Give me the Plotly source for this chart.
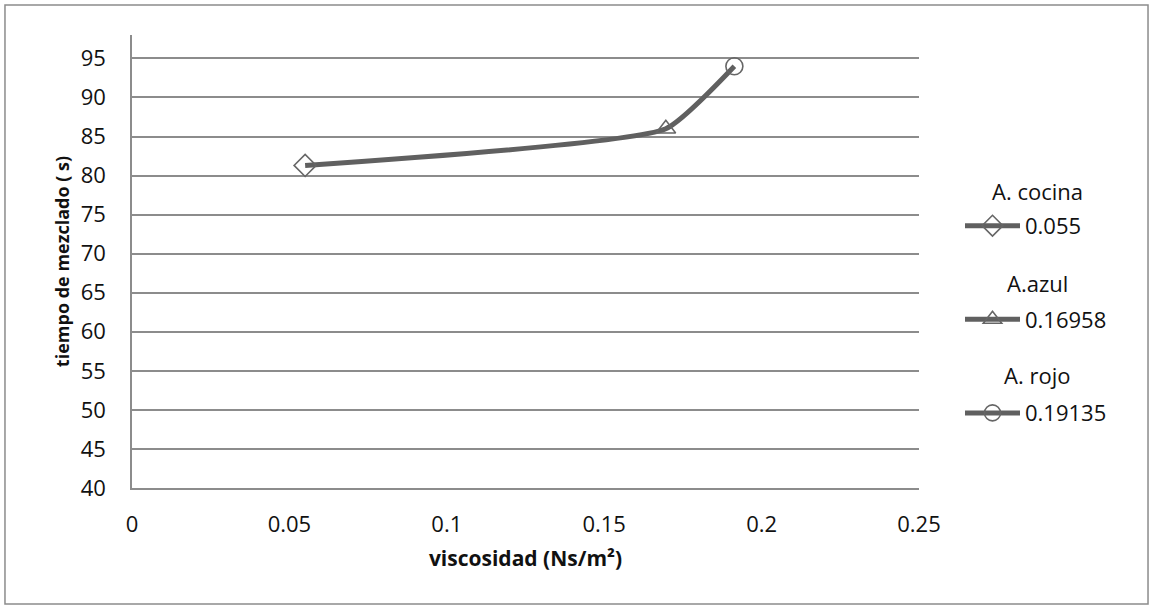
import plotly.graph_objects as go

viscosidad = [0.055, 0.16958, 0.19135]
tiempo = [81.3, 86.0, 94.0]
nombres = ["A. cocina", "A.azul", "A. rojo"]
etiquetas = ["0.055", "0.16958", "0.19135"]
simbolos = ["diamond-open", "triangle-up-open", "circle-open"]

LINE = "#606060"
GRID = "#8c8c8c"
FONT = "Open Sans, Liberation Sans, sans-serif"

fig = go.Figure()
fig.add_trace(go.Scatter(
    x=viscosidad, y=tiempo, mode="lines",
    line=dict(color=LINE, width=5, shape="spline", smoothing=0.45),
    showlegend=False, hoverinfo="skip"))

for xv, yv, nm, lab, sym in zip(viscosidad, tiempo, nombres, etiquetas, simbolos):
    fig.add_trace(go.Scatter(
        x=[xv], y=[yv], mode="lines+markers", name=lab,
        legendgroup=nm,
        line=dict(color=LINE, width=5),
        marker=dict(symbol=sym, size=17, color="#666666", line=dict(width=1.6, color="#666666")),
    ))

# group titles above each legend entry (centred like the original)
H = 609
t, b = 35, 121
ph = H - t - b
for i, nm in enumerate(nombres):
    ypix = 191 + 92 * i
    fig.add_annotation(text=nm, xref="paper", yref="paper",
                       x=(1037 - 132) / 787, y=(H - b - ypix) / ph,
                       xanchor="center", yanchor="middle", showarrow=False,
                       font=dict(size=22, color="#111"))

fig.update_layout(
    width=1153, height=H,
    margin=dict(l=132, r=234, t=t, b=b),
    paper_bgcolor="white", plot_bgcolor="white",
    font=dict(family=FONT, size=22, color="#111"),
    xaxis=dict(range=[0, 0.25], dtick=0.05, tick0=0, showgrid=False,
               zeroline=False, showline=True, linecolor=GRID, linewidth=1.5, ticks="",
               ticklabelstandoff=16, tickfont=dict(size=22),
               title=dict(text="<b>viscosidad (Ns/m²)</b>", font=dict(size=21), standoff=14)),
    yaxis=dict(range=[40, 98], dtick=5, tick0=40, showgrid=True, gridcolor=GRID, gridwidth=1.5,
               zeroline=False, showline=True, linecolor=GRID, linewidth=1.5, ticks="",
               ticklabelstandoff=20, tickfont=dict(size=22),
               title=dict(text="<b>tiempo de mezclado ( s)</b>", font=dict(size=18), standoff=6)),
    legend=dict(x=(960 - 132) / 787, y=0.625, xanchor="left", yanchor="top",
                font=dict(size=22), itemwidth=55, tracegroupgap=62,
                bgcolor="rgba(0,0,0,0)"),
)

fig.add_shape(type="rect", xref="paper", yref="paper",
              x0=-0.1614, x1=1.291, y0=-0.256, y1=1.066,
              line=dict(color="#8c8c8c", width=1.5), layer="below")

fig.write_html("out.html")
